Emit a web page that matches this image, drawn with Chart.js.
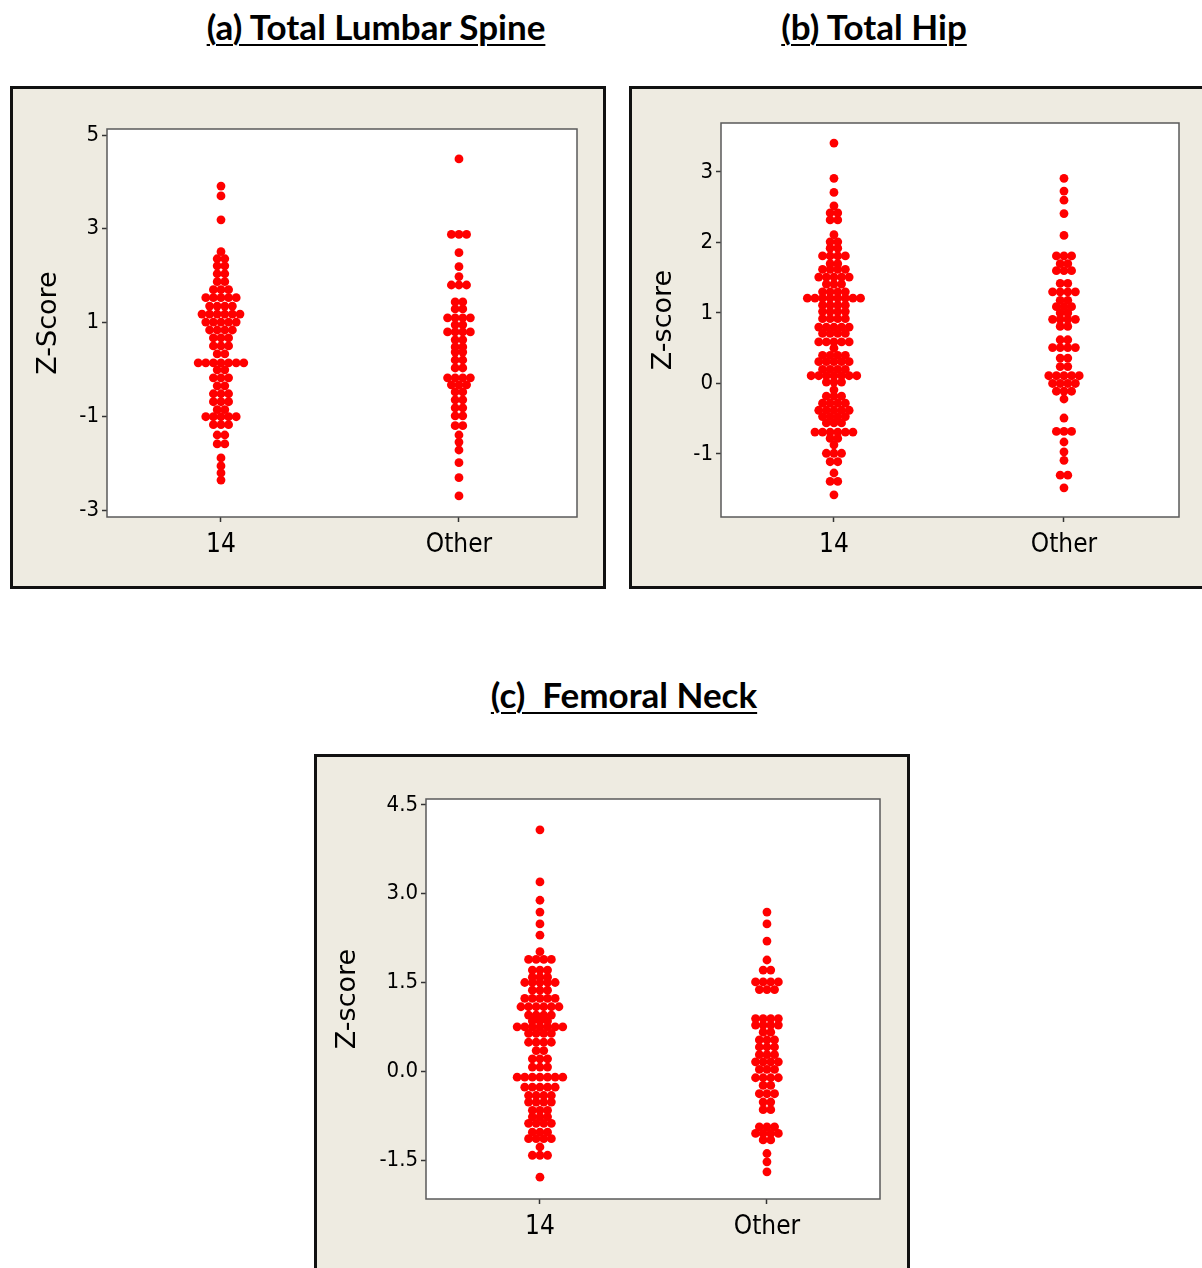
<!DOCTYPE html>
<html>
<head>
<meta charset="utf-8">
<script src="https://cdn.jsdelivr.net/npm/chart.js@4.4.1/dist/chart.umd.min.js"></script>
<style>
html,body{margin:0;padding:0;background:#fff;}
body{width:1202px;height:1268px;overflow:hidden;position:relative;}
.title{position:absolute;font-family:Lato,"Open Sans",sans-serif;font-weight:700;font-size:35px;line-height:1;text-decoration:underline;text-decoration-thickness:2px;text-underline-offset:4px;white-space:pre;color:#000;transform:translateX(-50%);}
.frame{position:absolute;box-sizing:border-box;border:3px solid #111;background:#eeebe1;}
.frame canvas{position:absolute;left:0;top:0;}
</style>
</head>
<body>
<div class="title" style="left:376px;top:9px;">(a) Total Lumbar Spine</div>
<div class="title" style="left:874px;top:9px;">(b) Total Hip</div>
<div class="title" style="left:624px;top:677px;">(c)  Femoral Neck</div>

<div class="frame" style="left:10px;top:86px;width:596px;height:503px;"><canvas id="chartA" width="590" height="497"></canvas></div>
<div class="frame" style="left:629px;top:86px;width:596px;height:503px;"><canvas id="chartB" width="590" height="497"></canvas></div>
<div class="frame" style="left:314px;top:754px;width:596px;height:520px;"><canvas id="chartC" width="590" height="514"></canvas></div>

<script>
// ---------- data ----------
const categories = ['14', 'Other'];

// (a) Total Lumbar Spine
const lumbar14Values = [3.91,3.70,3.19,2.51,2.36,2.21,2.04,1.87,1.70,1.53,1.35,1.18,1.01,0.84,0.67,0.50,0.33,0.14,-0.01,-0.18,-0.35,-0.52,-0.69,-0.86,-1.01,-1.18,-1.40,-1.59,-1.89,-2.06,-2.21,-2.36];
const lumbar14Counts = [1,1,1,1,2,2,2,2,3,5,4,6,5,4,3,3,2,7,2,3,2,3,3,2,5,3,2,2,1,1,1,1];
const lumbarOtherValues = [4.49,2.88,2.49,2.19,1.98,1.80,1.44,1.29,1.10,0.95,0.80,0.63,0.48,0.37,0.20,0.03,-0.18,-0.33,-0.48,-0.65,-0.82,-0.99,-1.20,-1.40,-1.55,-1.72,-1.99,-2.31,-2.70];
const lumbarOtherCounts = [1,3,1,1,1,3,2,2,4,2,4,2,2,2,2,2,4,3,2,2,2,2,2,1,1,1,1,1,1];
const lumbarTicks = [-3,-1,1,3,5];
const lumbarTickLabels = ['-3','-1','1','3','5'];

// (b) Total Hip
const hip14Values = [3.41,2.91,2.71,2.52,2.42,2.32,2.11,2.01,1.92,1.81,1.70,1.62,1.51,1.41,1.30,1.21,1.11,1.02,0.92,0.80,0.71,0.59,0.50,0.40,0.31,0.20,0.11,0.02,-0.09,-0.18,-0.28,-0.38,-0.47,-0.56,-0.69,-0.78,-0.87,-0.99,-1.11,-1.27,-1.39,-1.58];
const hip14Counts = [1,1,1,1,2,2,1,2,2,4,2,4,5,3,4,8,4,4,4,5,4,5,1,4,5,4,7,3,1,3,4,5,4,3,6,2,1,3,2,1,2,1];
const hipOtherValues = [2.91,2.73,2.60,2.41,2.10,1.81,1.70,1.60,1.42,1.30,1.18,1.09,1.00,0.91,0.81,0.62,0.51,0.36,0.24,0.11,0.00,-0.11,-0.22,-0.49,-0.68,-0.83,-0.97,-1.09,-1.30,-1.48];
const hipOtherCounts = [1,1,1,1,1,3,2,3,2,4,2,3,2,4,2,2,4,2,2,5,4,3,1,1,3,1,1,1,2,1];
const hipTicks = [-1,0,1,2,3];
const hipTickLabels = ['-1','0','1','2','3'];

// (c) Femoral Neck
const neck14Values = [4.08,3.20,2.89,2.69,2.49,2.30,2.02,1.89,1.71,1.59,1.50,1.37,1.23,1.09,0.95,0.85,0.75,0.64,0.49,0.35,0.21,0.07,-0.10,-0.27,-0.41,-0.52,-0.66,-0.77,-0.88,-1.03,-1.14,-1.28,-1.42,-1.79];
const neck14Counts = [1,1,1,1,1,1,1,4,3,3,5,3,5,6,4,3,7,4,4,2,3,3,7,5,4,4,3,3,4,3,4,1,3,1];
const neckOtherValues = [2.69,2.49,2.20,1.88,1.71,1.51,1.38,0.89,0.78,0.66,0.53,0.41,0.28,0.16,0.03,-0.11,-0.24,-0.38,-0.52,-0.65,-0.94,-1.05,-1.16,-1.39,-1.53,-1.70];
const neckOtherCounts = [1,1,1,1,2,4,3,4,4,2,3,3,3,4,3,4,2,3,2,2,3,4,2,1,1,1];
const neckTicks = [-1.5,0,1.5,3,4.5];
const neckTickLabels = ['-1.5','0.0','1.5','3.0','4.5'];

// ---------- drawing ----------
const DOT_SPACING_PX = 7.6;
const TICK_FONT = '"Liberation Sans Narrow", "DejaVu Sans Condensed", "Arial Narrow", sans-serif';

function stackDots(values, counts, catIndex, dx) {
  const pts = [];
  values.forEach((v, i) => {
    const n = counts[i];
    for (let k = 0; k < n; k++) pts.push({x: catIndex + (k - (n - 1) / 2) * dx, y: v});
  });
  return pts;
}

const plotFrame = {
  id: 'plotFrame',
  beforeDraw(chart) {
    const a = chart.chartArea, c = chart.ctx;
    c.save(); c.fillStyle = '#ffffff';
    c.fillRect(a.left, a.top, a.right - a.left, a.bottom - a.top);
    c.restore();
  },
  afterDraw(chart) {
    const a = chart.chartArea, c = chart.ctx;
    c.save(); c.strokeStyle = '#5a5a5a'; c.lineWidth = 1.5;
    c.strokeRect(a.left, a.top, a.right - a.left, a.bottom - a.top);
    c.restore();
  }
};

function makePanel(id, p) {
  const dx = DOT_SPACING_PX * (p.xMax - p.xMin) / p.plotWidth;
  const ds = (pts) => ({data: pts, pointRadius: 4.4, pointHoverRadius: 4.4, pointStyle: 'circle',
    backgroundColor: '#ff0000', borderColor: '#ff0000', borderWidth: 0});
  new Chart(document.getElementById(id), {
    type: 'scatter',
    data: {datasets: [ds(stackDots(p.v14, p.c14, 0, dx)), ds(stackDots(p.vOther, p.cOther, 1, dx))]},
    options: {
      responsive: false, animation: false, events: [],
      layout: {padding: {left: 0, top: p.padTop, right: p.padRight, bottom: 0}},
      plugins: {legend: {display: false}, tooltip: {enabled: false}},
      scales: {
        x: {
          type: 'linear', min: p.xMin, max: p.xMax,
          afterFit(s) { s.height = p.xAxisHeight; },
          afterBuildTicks(s) { s.ticks = categories.map((c, i) => ({value: i})); },
          ticks: {callback: (v, i) => categories[i], font: {family: TICK_FONT, size: 26}, color: '#000',
            padding: 8, maxRotation: 0, autoSkip: false},
          grid: {display: true, drawOnChartArea: false, drawTicks: true, tickLength: 5, tickColor: '#333', tickWidth: 1.5},
          border: {display: false}
        },
        y: {
          type: 'linear', min: p.yMin, max: p.yMax,
          afterFit(s) { s.width = p.yAxisWidth; },
          afterBuildTicks(s) { s.ticks = p.ticks.map(v => ({value: v})); },
          ticks: {callback: (v, i) => p.tickLabels[i], font: {family: TICK_FONT, size: 22}, color: '#000',
            padding: 3, autoSkip: false},
          grid: {display: true, drawOnChartArea: false, drawTicks: true, tickLength: 5, tickColor: '#333', tickWidth: 1.5},
          border: {display: false},
          title: {display: true, text: p.yTitle, color: '#000',
            font: {family: '"DejaVu Sans", Verdana, sans-serif', size: 27}, padding: {top: p.titlePad, bottom: 0}}
        }
      }
    },
    plugins: [plotFrame]
  });
}

makePanel('chartA', {
  v14: lumbar14Values, c14: lumbar14Counts, vOther: lumbarOtherValues, cOther: lumbarOtherCounts,
  ticks: lumbarTicks, tickLabels: lumbarTickLabels, yTitle: 'Z-Score',
  yMin: -3.149, yMax: 5.128, xMin: -0.479, xMax: 1.496, plotWidth: 470,
  yAxisWidth: 94, xAxisHeight: 69, padTop: 40, padRight: 26, titlePad: 20
});
makePanel('chartB', {
  v14: hip14Values, c14: hip14Counts, vOther: hipOtherValues, cOther: hipOtherCounts,
  ticks: hipTicks, tickLabels: hipTickLabels, yTitle: 'Z-score',
  yMin: -1.894, yMax: 3.695, xMin: -0.491, xMax: 1.5, plotWidth: 458,
  yAxisWidth: 89, xAxisHeight: 69, padTop: 34, padRight: 43, titlePad: 16
});
makePanel('chartC', {
  v14: neck14Values, c14: neck14Counts, vOther: neckOtherValues, cOther: neckOtherCounts,
  ticks: neckTicks, tickLabels: neckTickLabels, yTitle: 'Z-score',
  yMin: -2.159, yMax: 4.601, xMin: -0.502, xMax: 1.498, plotWidth: 454,
  yAxisWidth: 109, xAxisHeight: 72, padTop: 42, padRight: 27, titlePad: 15
});
</script>
</body>
</html>
